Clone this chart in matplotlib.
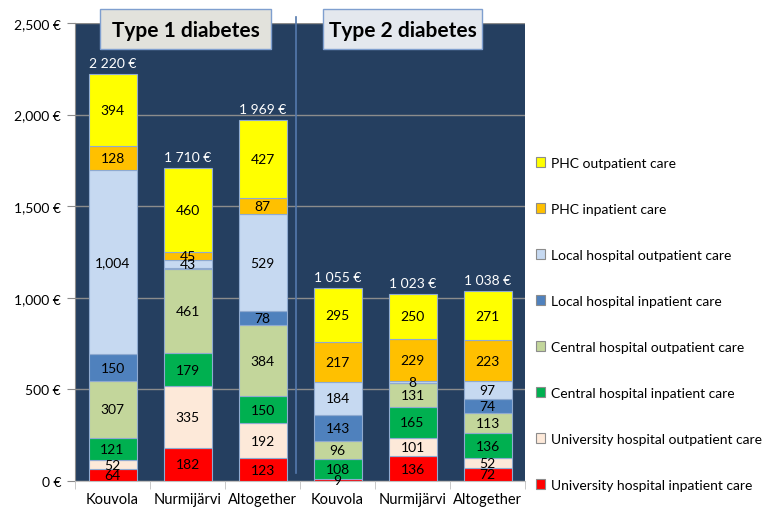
import matplotlib
matplotlib.use("Agg")
import matplotlib.pyplot as plt
from matplotlib.patches import Rectangle, Patch
import numpy as np

plt.rcParams['font.family'] = ['Lato', 'DejaVu Sans']

categories = ["Kouvola", "Nurmijärvi", "Altogether", "Kouvola", "Nurmijärvi", "Altogether"]
series_names = [
    "University hospital inpatient care",
    "University hospital outpatient care",
    "Central hospital inpatient care",
    "Central hospital outpatient care",
    "Local hospital inpatient care",
    "Local hospital outpatient care",
    "PHC inpatient care",
    "PHC outpatient care",
]
univ_inpatient = [64, 182, 123, 9, 136, 72]
univ_outpatient = [52, 335, 192, 3, 101, 52]
central_inpatient = [121, 179, 150, 108, 165, 136]
central_outpatient = [307, 461, 384, 96, 131, 113]
local_inpatient = [150, 5, 78, 143, 3, 74]
local_outpatient = [1004, 43, 529, 184, 8, 97]
phc_inpatient = [128, 45, 87, 217, 229, 223]
phc_outpatient = [394, 460, 427, 295, 250, 271]
totals = [2220, 1710, 1969, 1055, 1023, 1038]
group_titles = ["Type 1 diabetes", "Type 2 diabetes"]
y_ticks = [0, 500, 1000, 1500, 2000, 2500]

series = [univ_inpatient, univ_outpatient, central_inpatient, central_outpatient,
          local_inpatient, local_outpatient, phc_inpatient, phc_outpatient]
colors = ["#FF0000", "#FDE9D9", "#00B050", "#C3D69B",
          "#4F81BD", "#C6D9F1", "#FFC000", "#FFFF00"]

fig = plt.figure(figsize=(7.72, 5.10), dpi=100)
ax = fig.add_axes([75/772, 1-482/510, 450/772, 458/510])
ax.set_facecolor("#253F60")

x = np.arange(len(categories))
bottom = np.zeros(len(categories))
for vals, col, name in zip(series, colors, series_names):
    vals = np.array(vals, dtype=float)
    ax.bar(x, vals, 0.64, bottom=bottom, color=col, edgecolor="#8FAAD0",
           linewidth=0.8, label=name, zorder=3)
    for xi, v, b in zip(x, vals, bottom):
        if v >= 6:
            ax.text(xi, b + v/2, f"{int(v):,}", ha="center", va="center",
                    fontsize=10, color="black", zorder=4)
    bottom += vals

for xi, top, t in zip(x, bottom, totals):
    ax.annotate(f"{t:,}".replace(",", " ") + " €", (xi, top), xytext=(0, 3.5),
                textcoords="offset points", ha="center", va="bottom",
                fontsize=10, color="white")

ax.set_xlim(-0.5, len(categories) - 0.5)
ax.set_ylim(0, 2500)
ax.set_yticks(y_ticks)
ax.set_yticklabels([f"{v:,} €" for v in y_ticks], fontsize=10)
ax.yaxis.grid(True, color="#8C8C8C", linewidth=1, zorder=1)
ax.set_axisbelow(True)
ax.tick_params(axis="y", length=6, color="#8C8C8C", pad=4)
ax.set_xticks(x)
ax.set_xticklabels(categories, fontsize=10.5)
ax.set_xticks(np.arange(-0.5, len(categories)), minor=True)
ax.tick_params(axis="x", which="major", length=0, pad=8)
ax.tick_params(axis="x", which="minor", length=6, color="#BFBFBF")
for s in ["top", "right"]:
    ax.spines[s].set_visible(False)
ax.spines["left"].set_color("#8C8C8C")
ax.spines["bottom"].set_color("#BFBFBF")

# separator between groups
ax.plot([2.447, 2.447], [44, 2533], color="#5479AD", linewidth=1.2, clip_on=False, zorder=2)

# group title boxes
boxes = [(100, 10, 171, 40, "#E2E2DC"), (323, 10, 159, 40, "#E4E8EE")]
for (bx, by, bw, bh, fc), title in zip(boxes, group_titles):
    fig.patches.append(Rectangle((bx/772, 1-(by+bh)/510), bw/772, bh/510,
                                 transform=fig.transFigure, facecolor=fc,
                                 edgecolor="#7F9FCF", linewidth=1, zorder=5))
    fig.text((bx + bw/2)/772, 1-(by + bh/2 + 1)/510, title, ha="center", va="center",
             fontsize=15, fontweight="bold", color="black", zorder=6)

handles = [Patch(facecolor=c, edgecolor="#8C8C8C", linewidth=0.8) for c in colors][::-1]
fig.legend(handles, series_names[::-1], loc="upper left",
           bbox_to_anchor=(530/772, 1-152/510), frameon=False, fontsize=10,
           labelspacing=2.45, handlelength=0.7, handleheight=0.7, handletextpad=0.4,
           borderaxespad=0)

fig.savefig("out.png", dpi=100)
